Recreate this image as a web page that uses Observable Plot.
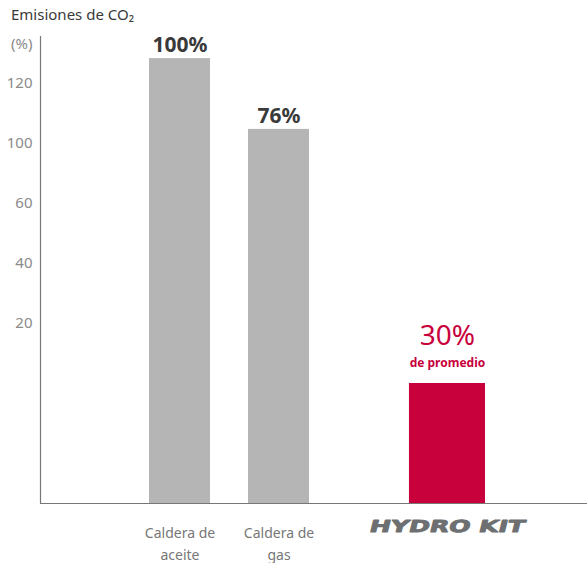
<!DOCTYPE html>
<html>
<head>
<meta charset="utf-8">
<script src="https://cdn.jsdelivr.net/npm/d3@7"></script>
<script src="https://cdn.jsdelivr.net/npm/@observablehq/plot@0.6"></script>
<style>
  body { margin: 0; background: #fff; font-family: "Noto Sans", sans-serif; }
  #wrap { width: 587px; position: relative; }
  #title { height: 28px; line-height: 28px; padding-left: 11px; font-size: 15px; color: #3a3a3a; }
</style>
</head>
<body>
<div id="wrap">
  <div id="title">Emisiones de CO₂</div>
  <div id="chart"></div>
</div>
<script>
// ---- data ----
const categories = ["Caldera de\naceite", "Caldera de\ngas", "HYDRO KIT"];
const barHeights = [148.3, 124.7, 40];          // bar heights read against the y axis
const valueLabels = ["100%", "76%", "30%"];
const subLabels = ["", "", "de promedio"];
const tickValues = [60, 80, 100, 120, 140];
const tickLabels = ["20", "40", "60", "100", "120"];
const axisUnit = "(%)";

// ---- layout (not data) ----
const barCenters = [25.5, 43.6, 74.4];
const barWidths = [11.15, 11.15, 13.9];
const GREY = "#b4b5b4", RED = "#c8003c";

const rows = categories.map((c, i) => ({
  cat: c, h: barHeights[i], label: valueLabels[i], sub: subLabels[i],
  cx: barCenters[i], w: barWidths[i], hl: i === 2
}));
const grey = rows.filter(d => !d.hl);
const red = rows.filter(d => d.hl);

const chart = Plot.plot({
  width: 587,
  height: 535,
  marginLeft: 40,
  marginRight: 0,
  marginTop: 7,
  marginBottom: 60,
  x: {domain: [0, 100], axis: null},
  y: {domain: [0, 156], axis: null},
  style: {fontFamily: "Noto Sans, sans-serif", background: "transparent"},
  marks: [
    Plot.rectY(rows, {x1: d => d.cx - d.w / 2, x2: d => d.cx + d.w / 2, y1: 0, y2: "h", fill: d => d.hl ? RED : GREY}),
    Plot.ruleY([0], {stroke: "#777", strokeWidth: 1.2}),
    Plot.ruleX([0], {y1: 0, y2: 155.7, stroke: "#777", strokeWidth: 1.2}),
    Plot.axisY({ticks: tickValues, tickFormat: (d, i) => tickLabels[tickValues.indexOf(d)], tickSize: 0, tickPadding: 8, fontSize: 15, color: "#8a8a8a", label: null}),
    Plot.text([axisUnit], {x: 0, y: 153, text: d => d, dx: -8, textAnchor: "end", fontSize: 15, fill: "#8a8a8a"}),
    // value labels
    Plot.text(grey, {x: "cx", y: "h", text: "label", dy: -13, fontSize: 21, fontWeight: "bold", fill: "#3a3a3a"}),
    Plot.text(red, {x: "cx", y: "h", text: "label", dy: -47, fontSize: 28, fill: RED}),
    Plot.text(red, {x: "cx", y: "h", text: "sub", dy: -20, fontSize: 12, fontWeight: "bold", fill: RED}),
    // category labels
    Plot.text(grey, {x: "cx", y: 0, text: "cat", lineAnchor: "top", dy: 19, fontSize: 14, lineHeight: 1.57, fill: "#777777"}),
    Plot.text(red, {x: "cx", y: 0, text: "cat", dy: 23, fontSize: 16.5, fontWeight: "bold", fill: "#6d6f71", stroke: "#6d6f71", strokeWidth: 0.9, fontFamily: "DejaVu Sans", className: "hydro"})
  ]
});
document.getElementById("chart").appendChild(chart);

// stretch / slant the HYDRO KIT wordmark
d3.select(chart).selectAll(".hydro text").each(function() {
  const t = this.getAttribute("transform") || "";
  this.setAttribute("transform", t + " skewX(-14) scale(1.52,1)");
});
</script>
</body>
</html>
